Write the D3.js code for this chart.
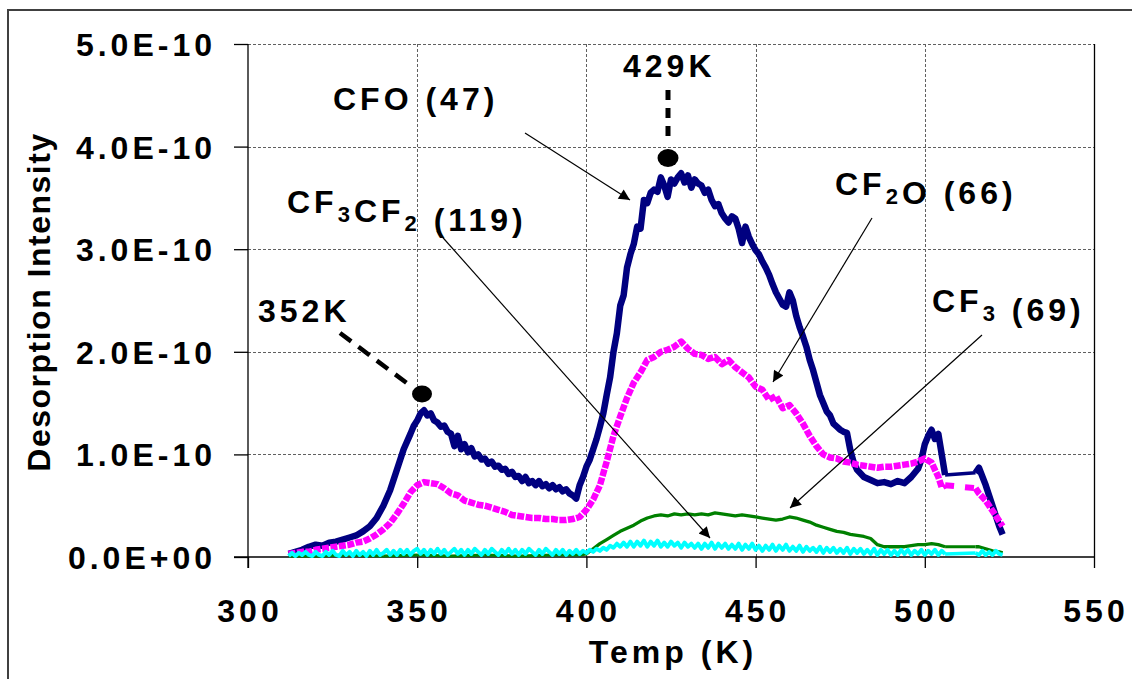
<!DOCTYPE html>
<html><head><meta charset="utf-8">
<script src="https://cdn.jsdelivr.net/npm/d3@7"></script>
<style>
html,body{margin:0;padding:0;background:#fff;}
svg text{font-family:"Liberation Sans",Arial,sans-serif;font-weight:bold;fill:#000;}
</style></head>
<body><svg id="c" width="1132" height="679"></svg>
<script>
// ---------- data ----------
const xTicks = [300, 350, 400, 450, 500, 550];
const yTicks = [0, 1e-10, 2e-10, 3e-10, 4e-10, 5e-10];
const yTickLabels = ["0.0E+00", "1.0E-10", "2.0E-10", "3.0E-10", "4.0E-10", "5.0E-10"];

// CFO (47) – navy
const cfoT = [312,314,316,318,320,322,324,326,328,330,332,334,336,338,340,342,344,346,348,349,350,351,352,353,354,355,356,357,358,359,360,361,362,363,364,365,366,367,368,369,370,371,372,373,374,375,376,377,378,379,380,381,382,383,384,385,386,387,388,389,390,391,392,393,394,395,396,397,398,399,400,401,402,403,404,405,406,407,408,409,410,411,412,413,414,415,416,417,418,419,420,421,422,423,424,425,426,427,428,429,430,431,432,433,434,435,436,437,438,439,440,441,442,443,444,445,446,447,448,449,450,451,452,453,454,455,456,457,458,459,460,461,462,463,464,465,466,467,468,469,470,471,472,473,474,475,476,477,478,479,480,482,484,486,488,490,492,494,496,498,499,500,501,502,503,504,505,506,515,516,518,520,522,523];
const cfoV = [0.03,0.05,0.07,0.10,0.12,0.11,0.14,0.15,0.17,0.19,0.21,0.25,0.30,0.38,0.50,0.65,0.85,1.05,1.20,1.28,1.33,1.40,1.43,1.38,1.40,1.33,1.31,1.27,1.28,1.22,1.20,1.08,1.18,1.05,1.10,1.02,1.06,0.98,1.00,0.95,0.96,0.91,0.93,0.88,0.89,0.85,0.86,0.81,0.83,0.78,0.79,0.74,0.78,0.72,0.74,0.70,0.74,0.69,0.71,0.67,0.70,0.66,0.68,0.64,0.66,0.62,0.60,0.57,0.70,0.78,0.88,0.95,1.05,1.15,1.27,1.40,1.58,1.75,2.00,2.18,2.45,2.55,2.82,2.95,3.05,3.22,3.20,3.48,3.45,3.55,3.58,3.56,3.70,3.62,3.51,3.68,3.64,3.70,3.74,3.65,3.72,3.60,3.68,3.64,3.62,3.55,3.58,3.48,3.42,3.44,3.35,3.30,3.26,3.32,3.30,3.20,3.06,3.22,3.12,3.05,2.99,2.95,2.88,2.82,2.75,2.66,2.58,2.52,2.46,2.44,2.58,2.50,2.35,2.24,2.15,2.05,1.92,1.82,1.70,1.58,1.50,1.42,1.38,1.30,1.27,1.24,1.22,1.21,1.04,0.92,0.85,0.78,0.75,0.72,0.73,0.71,0.74,0.72,0.78,0.86,0.95,1.10,1.18,1.24,1.15,1.20,1.00,0.80,0.82,0.87,0.70,0.50,0.30,0.22];

// CF2O (66) – magenta
const cf2oT = [312,314,316,318,320,322,324,326,328,330,332,334,336,338,340,342,344,346,348,350,352,354,356,358,360,362,364,366,368,370,372,374,376,378,380,382,384,386,388,390,392,394,396,398,400,402,404,406,408,410,412,414,416,418,420,422,424,426,428,430,432,434,436,438,440,442,444,446,448,450,452,454,456,458,460,462,464,466,468,470,472,474,476,478,480,482,484,486,488,490,492,494,496,498,500,502,504,505,506,515,516,518,520,522,523];
const cf2oV = [0.03,0.04,0.05,0.05,0.07,0.08,0.09,0.10,0.11,0.12,0.14,0.15,0.18,0.22,0.27,0.33,0.42,0.52,0.63,0.70,0.73,0.72,0.71,0.67,0.62,0.60,0.55,0.53,0.51,0.50,0.48,0.46,0.44,0.41,0.40,0.39,0.38,0.38,0.37,0.37,0.36,0.36,0.37,0.39,0.46,0.56,0.70,0.93,1.18,1.37,1.55,1.70,1.80,1.92,1.95,2.00,2.02,2.05,2.10,2.03,1.98,1.97,1.93,1.95,1.88,1.92,1.85,1.80,1.75,1.66,1.63,1.53,1.57,1.45,1.48,1.40,1.30,1.18,1.08,1.00,0.97,0.96,0.93,0.92,0.90,0.89,0.88,0.87,0.88,0.88,0.89,0.90,0.91,0.93,0.96,0.92,0.78,0.68,0.70,0.67,0.62,0.55,0.45,0.35,0.30];

// CF3 (69) – green
const cf3T = [312,320,330,340,350,360,370,380,390,398,400,402,404,406,408,410,412,414,416,418,420,422,424,426,428,430,432,434,436,438,440,442,444,446,448,450,452,454,456,458,460,462,464,466,468,470,472,474,476,478,480,482,484,486,488,490,492,494,496,498,500,502,504,506,515,516,518,520,522,523];
const cf3V = [0.01,0.01,0.02,0.01,0.02,0.01,0.02,0.01,0.02,0.02,0.03,0.08,0.13,0.17,0.21,0.25,0.28,0.31,0.35,0.38,0.40,0.41,0.40,0.42,0.41,0.42,0.41,0.42,0.41,0.43,0.42,0.41,0.40,0.41,0.40,0.39,0.38,0.37,0.36,0.37,0.39,0.38,0.36,0.34,0.31,0.29,0.27,0.25,0.24,0.22,0.21,0.20,0.18,0.12,0.10,0.10,0.10,0.10,0.11,0.12,0.12,0.13,0.12,0.10,0.10,0.10,0.08,0.06,0.05,0.04];

// CF3CF2 (119) – cyan
const cf3cf2T = [312,313,314,315,316,317,318,319,320,321,322,323,324,325,326,327,328,329,330,331,332,333,334,335,336,337,338,339,340,341,342,343,344,345,346,347,348,349,350,351,352,353,354,355,356,357,358,359,360,361,362,363,364,365,366,367,368,369,370,371,372,373,374,375,376,377,378,379,380,381,382,383,384,385,386,387,388,389,390,391,392,393,394,395,396,397,398,399,400,401,402,403,404,405,406,407,408,409,410,411,412,413,414,415,416,417,418,419,420,421,422,423,424,425,426,427,428,429,430,431,432,433,434,435,436,437,438,439,440,441,442,443,444,445,446,447,448,449,450,451,452,453,454,455,456,457,458,459,460,461,462,463,464,465,466,467,468,469,470,471,472,473,474,475,476,477,478,479,480,481,482,483,484,485,486,487,488,489,490,491,492,493,494,495,496,497,498,499,500,501,502,503,504,505,506,515,516,517,518,519,520,521,522,523];
const cf3cf2V = [0.01,0.04,0.01,0.04,0.02,0.05,0.02,0.01,0.05,0.02,0.01,0.05,0.02,0.06,0.02,0.01,0.06,0.02,0.05,0.01,0.06,0.02,0.05,0.01,0.06,0.02,0.07,0.02,0.04,0.07,0.02,0.06,0.02,0.07,0.03,0.07,0.02,0.06,0.08,0.03,0.07,0.02,0.07,0.03,0.08,0.03,0.07,0.02,0.05,0.08,0.03,0.07,0.02,0.07,0.03,0.08,0.05,0.02,0.07,0.03,0.08,0.05,0.02,0.07,0.03,0.08,0.03,0.07,0.02,0.07,0.03,0.08,0.05,0.02,0.07,0.03,0.08,0.05,0.02,0.07,0.03,0.07,0.02,0.06,0.03,0.07,0.03,0.06,0.04,0.07,0.05,0.08,0.06,0.09,0.07,0.11,0.09,0.13,0.10,0.14,0.10,0.15,0.10,0.15,0.11,0.16,0.10,0.15,0.11,0.16,0.10,0.14,0.10,0.15,0.11,0.14,0.09,0.14,0.10,0.13,0.09,0.13,0.08,0.13,0.09,0.14,0.08,0.13,0.09,0.13,0.08,0.12,0.08,0.13,0.07,0.12,0.08,0.13,0.07,0.11,0.06,0.11,0.07,0.12,0.06,0.11,0.07,0.12,0.06,0.10,0.06,0.11,0.05,0.10,0.06,0.09,0.05,0.10,0.04,0.09,0.05,0.09,0.04,0.08,0.04,0.09,0.03,0.08,0.04,0.08,0.03,0.07,0.03,0.08,0.02,0.07,0.03,0.07,0.02,0.06,0.02,0.07,0.03,0.07,0.02,0.06,0.03,0.07,0.02,0.06,0.03,0.07,0.02,0.06,0.03,0.04,0.02,0.06,0.02,0.05,0.02,0.06,0.03,0.02];

const UNIT = 1e-10;

// ---------- layout ----------
const svg = d3.select("#c");
const X0 = 248, X1 = 1094, Y0 = 557, Y1 = 44;
const x = d3.scaleLinear().domain([300, 550]).range([X0, X1]);
const y = d3.scaleLinear().domain([0, 5e-10]).range([Y0, Y1]);
const FS = 32, LS = 4;

// outer chart border
svg.append("path").attr("d", "M8,690 L8,10 L1140,10").attr("fill", "none")
  .attr("stroke", "#404040").attr("stroke-width", 2);

// grid
const grid = svg.append("g").attr("stroke", "#606060").attr("stroke-width", 1).attr("stroke-dasharray", "3,2");
yTicks.filter(d => d > 0).forEach(d => {
  grid.append("line").attr("x1", X0).attr("x2", X1).attr("y1", Math.round(y(d)) + 0.5).attr("y2", Math.round(y(d)) + 0.5);
});
xTicks.filter(d => d > 300 && d < 550).forEach(d => {
  grid.append("line").attr("y1", Y1).attr("y2", Y0).attr("x1", Math.round(x(d)) + 0.5).attr("x2", Math.round(x(d)) + 0.5);
});
svg.append("line").attr("x1", X1 + 0.5).attr("x2", X1 + 0.5).attr("y1", Y1).attr("y2", Y0)
  .attr("stroke", "#000").attr("stroke-width", 1.3);

// axes
const yAxis = d3.axisLeft(y).tickValues(yTicks).tickSize(14).tickFormat("");
const xAxis = d3.axisBottom(x).tickValues(xTicks).tickSize(11).tickFormat("");
const gy = svg.append("g").attr("transform", `translate(${X0},0)`).call(yAxis);
const gx = svg.append("g").attr("transform", `translate(0,${Y0})`).call(xAxis);
[gy, gx].forEach(g => { g.select(".domain").attr("stroke", "#000").attr("stroke-width", 1.3); g.selectAll(".tick line").attr("stroke", "#000").attr("stroke-width", 1.3); });
gy.select(".domain").attr("d", `M0,${Y1}V${Y0 + 11}`);
gx.select(".domain").attr("d", `M${X0 - 14},0H${X1}`);

// tick labels
svg.append("g").selectAll("text").data(yTicks).join("text")
  .attr("x", 212 + LS).attr("y", d => y(d) + 12).attr("text-anchor", "end")
  .attr("font-size", FS).attr("letter-spacing", LS)
  .text((d, i) => yTickLabels[i]);
svg.append("g").selectAll("text").data(xTicks).join("text")
  .attr("x", d => x(d) + LS / 2).attr("y", 622).attr("text-anchor", "middle")
  .attr("font-size", FS).attr("letter-spacing", LS)
  .text(d => d);

// axis titles
svg.append("text").attr("x", 671 + LS / 2).attr("y", 663).attr("text-anchor", "middle")
  .attr("font-size", FS).attr("letter-spacing", LS).text("Temp (K)");
svg.append("text").attr("transform", "translate(50,302) rotate(-90)").attr("text-anchor", "middle")
  .attr("font-size", FS).attr("letter-spacing", 1.5).text("Desorption Intensity");

// series: contiguous runs + connectors over data gaps
const line = d3.line().x(d => x(d[0])).y(d => y(d[1] * UNIT));
function split(T, V) {
  const runs = [[]], gaps = [];
  T.forEach((t, i) => {
    if (i > 0 && t - T[i - 1] > 5) {
      gaps.push([[T[i - 1], V[i - 1]], [t, V[i]]]);
      runs.push([]);
    }
    runs[runs.length - 1].push([t, V[i]]);
  });
  return {runs, gaps};
}
const plot = svg.append("g").attr("fill", "none").attr("stroke-linejoin", "round");
function series(T, V, color, w, dash, gapW, gapDash) {
  const s = split(T, V);
  s.gaps.forEach(g => plot.append("path").datum(g).attr("d", line)
    .attr("stroke", color).attr("stroke-width", gapW).attr("stroke-dasharray", gapDash));
  s.runs.forEach(r => plot.append("path").datum(r).attr("d", line)
    .attr("stroke", color).attr("stroke-width", w).attr("stroke-dasharray", dash));
}
series(cfoT, cfoV, "#000080", 6.5, null, 3.5, null);
series(cf2oT, cf2oV, "#FF00FF", 6.5, "7,1.5", 6, "9,11");
series(cf3T, cf3V, "#008000", 3.3, null, 3, null);
series(cf3cf2T, cf3cf2V, "#00FFFF", 4, null, 3.5, null);

// annotations
const defs = svg.append("defs");
defs.append("marker").attr("id", "ah").attr("viewBox", "0 0 10 10").attr("refX", 10).attr("refY", 5)
  .attr("markerWidth", 14).attr("markerHeight", 11).attr("markerUnits", "userSpaceOnUse").attr("orient", "auto")
  .append("path").attr("d", "M0,0 L10,5 L0,10 Z").attr("fill", "#000");

const arrows = [
  [525, 133, 630, 200],
  [437, 231, 710, 538],
  [872, 218, 773, 382],
  [982, 335, 790, 508]
];
arrows.forEach(a => svg.append("line").attr("x1", a[0]).attr("y1", a[1]).attr("x2", a[2]).attr("y2", a[3])
  .attr("stroke", "#000").attr("stroke-width", 1.2).attr("marker-end", "url(#ah)"));

// peak markers
svg.append("line").attr("x1", 340).attr("y1", 333).attr("x2", 408).attr("y2", 384)
  .attr("stroke", "#000").attr("stroke-width", 4.5).attr("stroke-dasharray", "14,9");
svg.append("ellipse").attr("cx", 422).attr("cy", 394).attr("rx", 10).attr("ry", 8.5).attr("fill", "#000");
svg.append("line").attr("x1", 668).attr("y1", 90).attr("x2", 668).attr("y2", 137)
  .attr("stroke", "#000").attr("stroke-width", 5).attr("stroke-dasharray", "10,8");
svg.append("ellipse").attr("cx", 668).attr("cy", 158).attr("rx", 10.5).attr("ry", 9).attr("fill", "#000");

function label(xp, yp, parts) {
  const t = svg.append("text").attr("x", xp).attr("y", yp).attr("font-size", FS).attr("letter-spacing", LS);
  parts.forEach(p => {
    if (typeof p === "string") t.append("tspan").text(p);
    else { t.append("tspan").attr("font-size", 22).attr("dy", 9).text(p.sub); t.append("tspan").attr("dy", -9).text(""); }
  });
  return t;
}
label(333, 110, ["CFO (47)"]);
label(623, 77, ["429K"]);
label(258, 322, ["352K"]);
label(287, 213, ["CF", {sub: "3"}, "CF", {sub: "2"}, " (119)"]);
label(835, 195, ["CF", {sub: "2"}, "O (66)"]);
label(932, 312, ["CF", {sub: "3"}, " (69)"]);
</script></body></html>
